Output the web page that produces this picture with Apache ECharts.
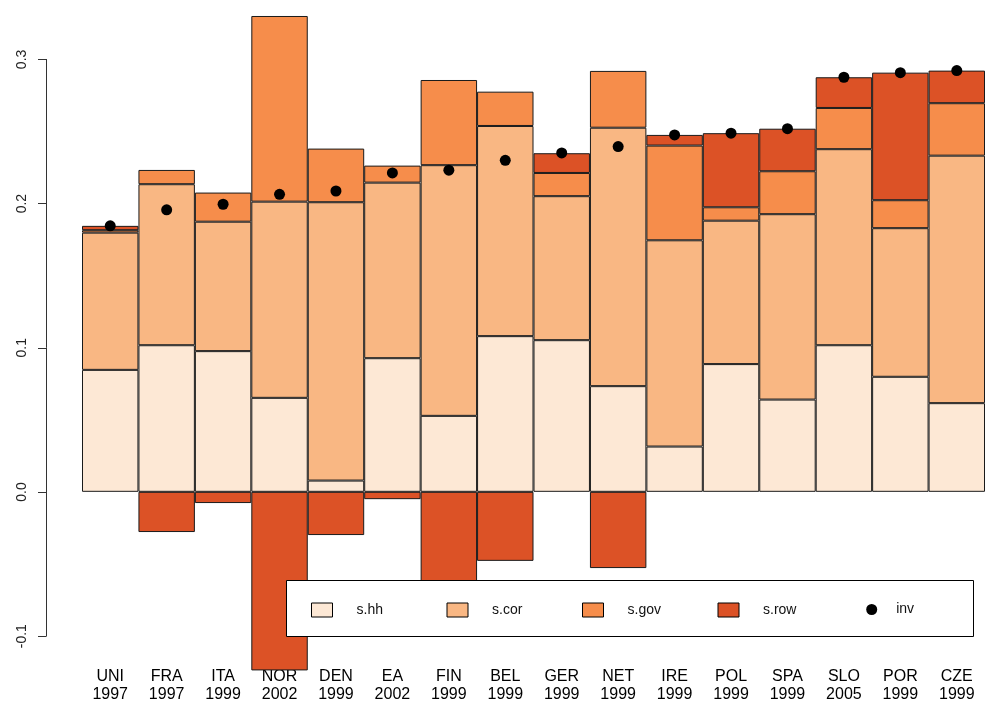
<!DOCTYPE html>
<html>
<head>
<meta charset="utf-8">
<script src="https://cdn.jsdelivr.net/npm/echarts@6/dist/echarts.min.js"></script>
<style>html,body{margin:0;padding:0;background:#fff}#chart{width:985px;height:704px}</style>
</head>
<body>
<div id="chart"></div>
<script>
const countries = ['UNI','FRA','ITA','NOR','DEN','EA','FIN','BEL','GER','NET','IRE','POL','SPA','SLO','POR','CZE'];
const years = ['1997','1997','1999','2002','1999','2002','1999','1999','1999','1999','1999','1999','1999','2005','1999','1999'];
const sHH  = [0.0846,0.1017,0.0976,0.0652,0.0078,0.0927,0.0527,0.1080,0.1052,0.0733,0.0314,0.0886,0.0640,0.1017,0.0798,0.0615];
const sCOR = [0.0952,0.1117,0.0898,0.1361,0.1931,0.1218,0.1739,0.1458,0.0999,0.1793,0.1431,0.0995,0.1286,0.1360,0.1031,0.1717];
const sGOV = [0.0017,0.0099,0.0202,0.1288,0.0372,0.0118,0.0591,0.0238,0.0161,0.0394,0.0657,0.0093,0.0298,0.0286,0.0194,0.0364];
const sROW = [0.0030,-0.0279,-0.0078,-0.1239,-0.0300,-0.0051,-0.0750,-0.0479,0.0137,-0.0529,0.0074,0.0514,0.0295,0.0213,0.0885,0.0226];
const inv  = [0.1845,0.1956,0.1995,0.2064,0.2087,0.2212,0.2231,0.2300,0.2351,0.2395,0.2476,0.2488,0.2519,0.2876,0.2908,0.2922];
const yTicks = [-0.1, 0.0, 0.1, 0.2, 0.3];

const labels = countries.map((c, i) => c + '\n' + years[i]);
const FONT = 'Liberation Sans, Arial, sans-serif';
const colors = {hh:'#FDE8D5', cor:'#F9B783', gov:'#F68D4B', row:'#DC5226'};
const border = {borderColor:'#1a1a1a', borderWidth:1};

function barSeries(name, data, color) {
  return {
    name, type:'bar', stack:'s', data, xAxisIndex:0, yAxisIndex:0,
    barCategoryGap:'0%', barGap:'0%',
    itemStyle:Object.assign({color}, border),
    emphasis:{disabled:true}, z:2
  };
}

const chart = echarts.init(document.getElementById('chart'), null, {renderer:'canvas'});
chart.setOption({
  animation:false,
  backgroundColor:'#fff',
  textStyle:{fontFamily:FONT},
  grid:[
    {left:82, top:8.93, width:905, height:663.32},
    {left:46, top:59.4, width:10, height:576.8}
  ],
  xAxis:[
    {type:'category', gridIndex:0, data:labels,
     axisLine:{show:false}, axisTick:{show:false},
     axisLabel:{interval:0, margin:-4, fontSize:16, lineHeight:18, color:'#000', fontFamily:FONT}},
    {type:'value', gridIndex:1, show:false}
  ],
  yAxis:[
    {type:'value', gridIndex:0, min:-0.125, max:0.335, show:false, splitLine:{show:false}},
    {type:'value', gridIndex:1, min:yTicks[0], max:yTicks[yTicks.length-1], interval:0.1,
     axisLine:{show:true, lineStyle:{color:'#333', width:1}},
     axisTick:{show:true, length:8, lineStyle:{color:'#333'}},
     splitLine:{show:false},
     axisLabel:{rotate:90, margin:17, fontSize:14, color:'#222', fontFamily:FONT,
       formatter:v => v.toFixed(1)}}
  ],
  legend:[
    {data:['s.hh','s.cor','s.gov','s.row'], left:311, top:602.5, padding:0, itemGap:10,
     itemWidth:21, itemHeight:14, icon:'rect', z:20,
     itemStyle:{borderColor:'#000', borderWidth:1},
     textStyle:{fontSize:14, color:'#111', width:80, lineHeight:14, padding:[0,0,0,19], fontFamily:FONT},
     selectedMode:false},
    {data:['inv'], left:866.2, top:602.5, padding:0,
     itemWidth:11, itemHeight:14, icon:'circle', z:20,
     itemStyle:{color:'#000', opacity:1},
     textStyle:{fontSize:14, color:'#111', lineHeight:14, padding:[0,0,0,14], fontFamily:FONT},
     selectedMode:false}
  ],
  graphic:{elements:[
    {type:'rect', z:10, shape:{x:286.5, y:580.5, width:687, height:56},
     style:{fill:'#fff', stroke:'#000', lineWidth:1}}
  ]},
  series:[
    barSeries('s.hh', sHH, colors.hh),
    barSeries('s.cor', sCOR, colors.cor),
    barSeries('s.gov', sGOV, colors.gov),
    barSeries('s.row', sROW, colors.row),
    {name:'inv', type:'scatter', data:inv, xAxisIndex:0, yAxisIndex:0,
     symbol:'circle', symbolSize:11, itemStyle:{color:'#000', opacity:1}, z:3, emphasis:{disabled:true}}
  ]
});
</script>
</body>
</html>
